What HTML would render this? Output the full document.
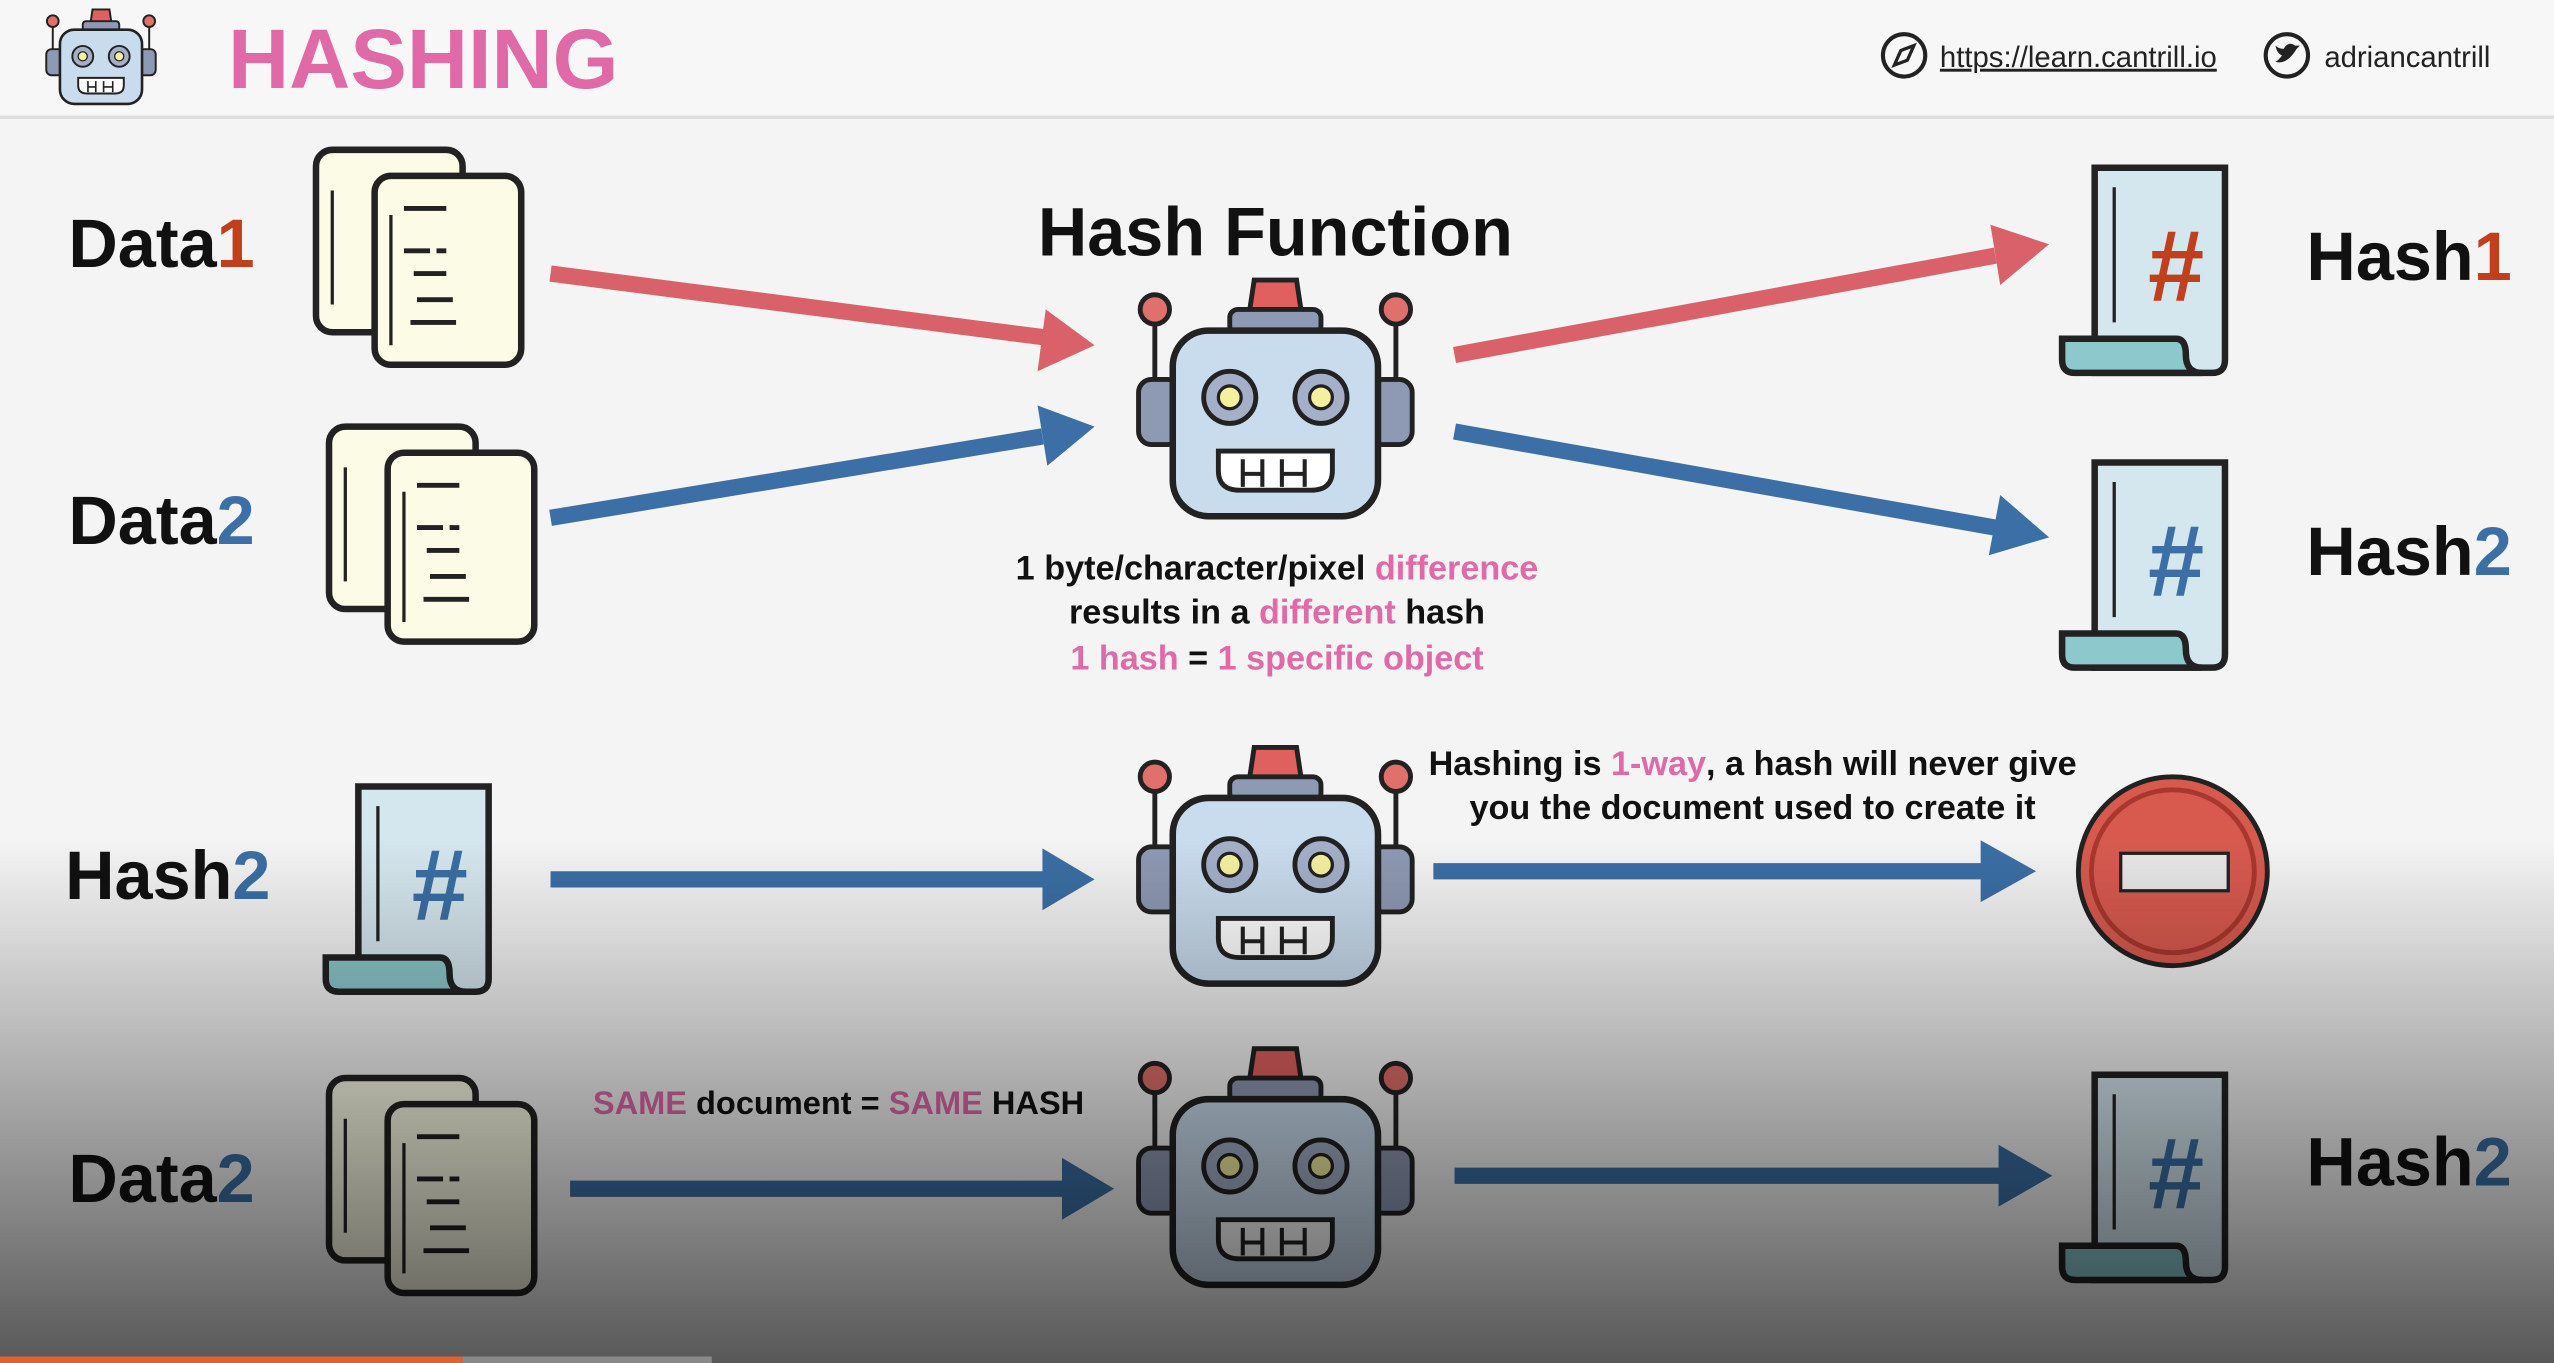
<!DOCTYPE html>
<html><head><meta charset="utf-8"><style>
html,body{margin:0;padding:0;background:#f4f4f4}
svg{display:block}
text{font-family:"Liberation Sans",sans-serif;font-weight:bold}
</style></head><body>
<svg width="2554" height="1363" viewBox="0 0 1568 837" preserveAspectRatio="none" xmlns="http://www.w3.org/2000/svg">
<defs>
<linearGradient id="dark" x1="0" y1="0" x2="0" y2="1">
<stop offset="0" stop-color="#000" stop-opacity="0"/>
<stop offset="1" stop-color="#000" stop-opacity="0.64"/>
</linearGradient>
<g id="robot">
<line x1="-74" y1="11" x2="-74" y2="60" stroke="#222" stroke-width="3"/>
<line x1="74" y1="11" x2="74" y2="60" stroke="#222" stroke-width="3"/>
<circle cx="-74" cy="11" r="9" fill="#e0706b" stroke="#222" stroke-width="3"/>
<circle cx="74" cy="11" r="9" fill="#e0706b" stroke="#222" stroke-width="3"/>
<path d="M-16 13 L-13 -7 H13 L16 13 Z" fill="#e06060" stroke="#222" stroke-width="3"/>
<rect x="-28" y="11" width="56" height="15" rx="5" fill="#8e99b3" stroke="#222" stroke-width="3"/>
<rect x="-84" y="54" width="26" height="40" rx="8" fill="#8e99b3" stroke="#222" stroke-width="3"/>
<rect x="58" y="54" width="26" height="40" rx="8" fill="#8e99b3" stroke="#222" stroke-width="3"/>
<rect x="-63" y="24" width="126" height="114" rx="22" fill="#c9dced" stroke="#222" stroke-width="4"/>
<circle cx="-28" cy="65" r="16" fill="#a3b0c8" stroke="#222" stroke-width="3"/>
<circle cx="28" cy="65" r="16" fill="#a3b0c8" stroke="#222" stroke-width="3"/>
<circle cx="-28" cy="65" r="7" fill="#f5f0a0" stroke="#222" stroke-width="2"/>
<circle cx="28" cy="65" r="7" fill="#f5f0a0" stroke="#222" stroke-width="2"/>
<path d="M-35 98 H35 V110 Q35 122 22 122 H-22 Q-35 122 -35 110 Z" fill="#fff" stroke="#222" stroke-width="3"/>
<path d="M-20 103 V120 M-8 103 V120 M4 103 V120 M18 103 V120 M-20 112 H-8 M4 112 H18" stroke="#222" stroke-width="2.5"/>
</g>
<g id="docs">
<rect x="0" y="0" width="90" height="112" rx="10" fill="#fbfbe6" stroke="#222" stroke-width="4"/>
<rect x="36" y="16" width="90" height="116" rx="10" fill="#fbfbe6" stroke="#222" stroke-width="4"/>
<path d="M10 25 V95 M46 40 V120" stroke="#222" stroke-width="2"/>
<path d="M54 36 H80 M54 62 H70 M74 62 H80 M60 76 H80 M62 92 H84 M58 106 H86" stroke="#222" stroke-width="3"/>
</g>
<g id="scroll">
<path d="M20 0 H100 V118 Q100 126 92 126 H20 Z" fill="#d5e7ee" stroke="#222" stroke-width="4"/>
<path d="M32 12 V95" stroke="#222" stroke-width="2"/>
<path d="M0 105 H70 Q76 105 76 115 Q76 126 86 126 H8 Q0 126 0 118 Z" fill="#8cc8cc" stroke="#222" stroke-width="4"/>
</g>
</defs>
<rect width="1568" height="837" fill="#f4f4f4"/>
<rect width="1568" height="72" fill="#f7f7f7"/>
<line x1="0" y1="72" x2="1568" y2="72" stroke="#ddd" stroke-width="2"/>
<g transform="translate(62,5) scale(0.4)"><use href="#robot" transform="translate(0,9)"/></g>
<text x="140" y="54" font-size="52" fill="#e06aa8">HASHING</text>
<circle cx="1169" cy="34" r="13" fill="none" stroke="#222" stroke-width="2.5"/>
<path d="M1163 40 L1167 31 L1175 28 L1171 37 Z" fill="none" stroke="#222" stroke-width="2"/>
<text x="1191" y="41" font-size="18" fill="#222" style="font-weight:normal" text-decoration="underline">https://learn.cantrill.io</text>
<circle cx="1404" cy="34" r="13" fill="none" stroke="#222" stroke-width="2.5"/>
<path d="M1397 38 Q1404 40 1410 30 L1412 28 L1409 28 Q1405 25 1402 30 Q1399 30 1397 28 Q1398 33 1401 34 Q1399 37 1397 38Z" fill="#222"/>
<text x="1427" y="41" font-size="18" fill="#222" style="font-weight:normal">adriancantrill</text>

<text x="42" y="164" font-size="42" fill="#111">Data<tspan fill="#c0401e">1</tspan></text>
<text x="42" y="334" font-size="42" fill="#111">Data<tspan fill="#3b6fa5">2</tspan></text>
<text x="1416" y="172" font-size="42" fill="#111">Hash<tspan fill="#c0401e">1</tspan></text>
<text x="1416" y="353" font-size="42" fill="#111">Hash<tspan fill="#3b6fa5">2</tspan></text>
<text x="40" y="552" font-size="42" fill="#111">Hash<tspan fill="#3b6fa5">2</tspan></text>
<text x="42" y="738" font-size="42" fill="#111">Data<tspan fill="#3b6fa5">2</tspan></text>
<text x="1416" y="728" font-size="42" fill="#111">Hash<tspan fill="#3b6fa5">2</tspan></text>
<text x="783" y="157" font-size="42" fill="#111" text-anchor="middle">Hash Function</text>

<text x="784" y="356" font-size="21" text-anchor="middle" fill="#111">1 byte/character/pixel <tspan fill="#e06aa8">difference</tspan></text>
<text x="784" y="383" font-size="21" text-anchor="middle" fill="#111">results in a <tspan fill="#e06aa8">different</tspan> hash</text>
<text x="784" y="411" font-size="21" text-anchor="middle" fill="#e06aa8">1 hash <tspan fill="#111">=</tspan> 1 specific object</text>
<text x="1076" y="476" font-size="21" text-anchor="middle" fill="#111">Hashing is <tspan fill="#e06aa8">1-way</tspan>, a hash will never give</text>
<text x="1076" y="503" font-size="21" text-anchor="middle" fill="#111">you the document used to create it</text>
<text x="364" y="684" font-size="20" fill="#111"><tspan fill="#e06aa8">SAME</tspan> document = <tspan fill="#e06aa8">SAME</tspan> HASH</text>

<use href="#docs" x="194" y="92"/>
<use href="#docs" x="202" y="262"/>
<use href="#docs" x="202" y="662"/>
<use href="#scroll" x="1266" y="103"/>
<text x="1336" y="185" font-size="62" fill="#c0401e" text-anchor="middle">#</text>
<use href="#scroll" x="1266" y="284"/>
<text x="1336" y="366" font-size="62" fill="#3b6fa5" text-anchor="middle">#</text>
<use href="#scroll" x="200" y="483"/>
<text x="270" y="565" font-size="62" fill="#3b6fa5" text-anchor="middle">#</text>
<use href="#scroll" x="1266" y="660"/>
<text x="1336" y="742" font-size="62" fill="#3b6fa5" text-anchor="middle">#</text>

<use href="#robot" x="783" y="179"/>
<use href="#robot" x="783" y="466"/>
<use href="#robot" x="783" y="651"/>

<circle cx="1334" cy="535" r="58" fill="#d85a4f" stroke="#222" stroke-width="3"/>
<circle cx="1334" cy="535" r="50" fill="none" stroke="#a8382e" stroke-width="3"/>
<rect x="1302" y="524" width="66" height="23" fill="#e8e8e8" stroke="#222" stroke-width="2"/>

<g stroke-width="10" fill="none">
<line x1="338" y1="168" x2="640" y2="207" stroke="#d9616a"/>
<line x1="338" y1="318" x2="640" y2="268" stroke="#3b6fa5"/>
<line x1="893" y1="218" x2="1225" y2="157" stroke="#d9616a"/>
<line x1="893" y1="265" x2="1225" y2="324" stroke="#3b6fa5"/>
<line x1="338" y1="540" x2="642" y2="540" stroke="#3b6fa5"/>
<line x1="880" y1="535" x2="1218" y2="535" stroke="#3b6fa5"/>
<line x1="350" y1="730" x2="654" y2="730" stroke="#3b6fa5"/>
<line x1="893" y1="722" x2="1228" y2="722" stroke="#3b6fa5"/>
</g>
<polygon points="672,212 637,228 642,190" fill="#d9616a"/>
<polygon points="672,262 643,286 637,249" fill="#3b6fa5"/>
<polygon points="1258,150 1228,175 1222,138" fill="#d9616a"/>
<polygon points="1258,330 1221,341 1228,304" fill="#3b6fa5"/>
<polygon points="672,540 640,521 640,559" fill="#3b6fa5"/>
<polygon points="1250,535 1216,516 1216,554" fill="#3b6fa5"/>
<polygon points="684,730 652,711 652,749" fill="#3b6fa5"/>
<polygon points="1260,722 1227,703 1227,741" fill="#3b6fa5"/>

<rect x="0" y="515" width="1568" height="322" fill="url(#dark)"/>
<rect x="0" y="833" width="284" height="4" fill="#e06030"/>
<rect x="284" y="833" width="153" height="4" fill="#888"/>
</svg>
</body></html>
